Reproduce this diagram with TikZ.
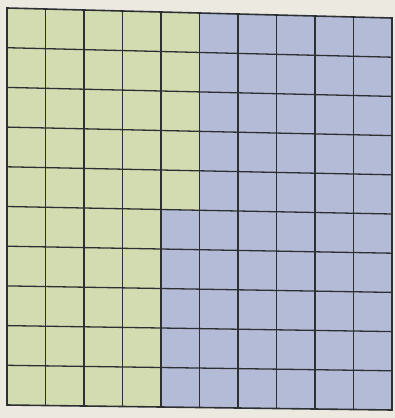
\documentclass[tikz,border=0pt]{standalone}
\definecolor{bgc}{HTML}{ECE9E1}
\definecolor{greenc}{HTML}{D3DBB1}
\definecolor{bluec}{HTML}{B3BBD6}
\definecolor{gridc}{HTML}{2C3033}
\begin{document}
\begin{tikzpicture}[x=1pt,y=-1pt,
  gridline/.style={draw=gridc, line width=1.3pt, line cap=rect},
  borderline/.style={draw=gridc, line width=1.6pt, line join=miter}]
\useasboundingbox (0,0) rectangle (395,418);
\fill[bgc] (0,0) rectangle (395,418);
\foreach \i in {0,...,10}{
  \foreach \j in {0,...,10}{
    \pgfmathsetmacro\xx{7+38.5*\i}
    \pgfmathsetmacro\yy{8+39.7*\j+(1-0.05*\j)*\i}
    \coordinate (p-\i-\j) at (\xx,\yy);
  }
}
\fill[greenc] (p-0-0) -- (p-5-0) -- (p-5-5) -- (p-4-5) -- (p-4-10) -- (p-0-10) -- cycle;
\fill[bluec] (p-5-0) -- (p-10-0) -- (p-10-10) -- (p-4-10) -- (p-4-5) -- (p-5-5) -- cycle;
\foreach \i in {1,...,9}{
  \draw[gridline] (p-\i-0) -- (p-\i-10);
}
\foreach \j in {1,...,9}{
  \draw[gridline] (p-0-\j) -- (p-10-\j);
}
\draw[borderline] (p-0-0) -- (p-10-0) -- (p-10-10) -- (p-0-10) -- cycle;
\end{tikzpicture}
\end{document}
